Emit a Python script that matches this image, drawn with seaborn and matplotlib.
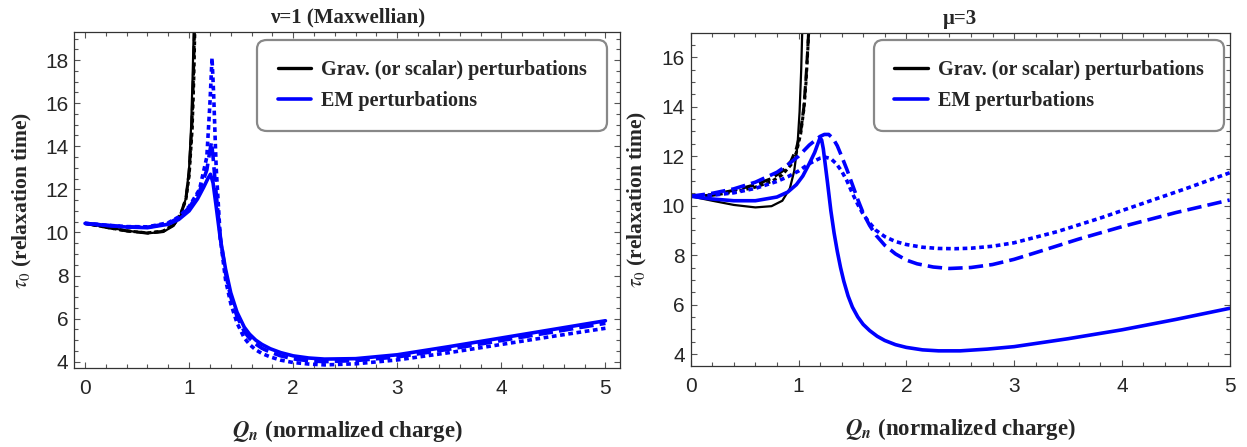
import numpy as np
import pandas as pd
import matplotlib
matplotlib.use("Agg")
import matplotlib.pyplot as plt
from matplotlib.ticker import MultipleLocator
from matplotlib.lines import Line2D
import seaborn as sns

# --- Data (Q_n vs tau_0) ---
# left panel: nu=1 (Maxwellian)
L_grav_solid_x = [0, 0.2, 0.4, 0.6, 0.75, 0.85, 0.92, 0.97, 1.0, 1.02, 1.035, 1.045]
L_grav_solid_y = [10.42, 10.25, 10.08, 9.96, 10.02, 10.3, 10.8, 11.6, 13.0, 15.0, 17.5, 19.5]
L_grav_dash_x = [0, 0.2, 0.4, 0.6, 0.75, 0.85, 0.92, 0.97, 1.0, 1.025, 1.04, 1.052]
L_grav_dash_y = [10.42, 10.24, 10.07, 9.97, 10.05, 10.35, 10.85, 11.6, 12.8, 14.8, 17.0, 19.5]
L_grav_dot_x = [0, 0.2, 0.4, 0.6, 0.75, 0.85, 0.92, 0.97, 1.0, 1.03, 1.045, 1.056]
L_grav_dot_y = [10.42, 10.24, 10.07, 9.98, 10.06, 10.36, 10.85, 11.55, 12.6, 14.8, 17.0, 19.5]

L_em_solid_x = [0, 0.2, 0.4, 0.6, 0.8, 0.9, 1.0, 1.08, 1.14, 1.18, 1.205, 1.23, 1.26, 1.3, 1.35,
                1.4, 1.46, 1.53, 1.58, 1.64, 1.7, 1.78, 1.88, 2.0, 2.15, 2.3, 2.6, 3.0, 3.5, 4.0, 4.5, 5.0]
L_em_solid_y = [10.42, 10.33, 10.25, 10.22, 10.38, 10.6, 11.0, 11.55, 12.1, 12.5, 12.7, 12.3, 11.2, 9.7, 8.3,
                7.2, 6.3, 5.6, 5.28, 5.0, 4.8, 4.6, 4.42, 4.27, 4.17, 4.12, 4.14, 4.32, 4.7, 5.1, 5.5, 5.9]
L_em_dash_x = [0, 0.2, 0.4, 0.6, 0.8, 0.9, 1.0, 1.1, 1.17, 1.2, 1.215, 1.23, 1.26, 1.3, 1.35,
               1.4, 1.46, 1.53, 1.58, 1.64, 1.7, 1.78, 1.88, 2.0, 2.15, 2.3, 2.6, 3.0, 3.5, 4.0, 4.5, 5.0]
L_em_dash_y = [10.42, 10.33, 10.26, 10.24, 10.42, 10.68, 11.15, 11.9, 12.9, 13.8, 14.2, 13.5, 11.8, 9.8, 8.1,
               7.0, 6.1, 5.4, 5.08, 4.82, 4.62, 4.44, 4.27, 4.13, 4.04, 4.0, 4.05, 4.22, 4.58, 4.98, 5.38, 5.78]
L_em_dot_x = [0, 0.2, 0.4, 0.6, 0.8, 0.9, 1.0, 1.1, 1.17, 1.2, 1.22, 1.235, 1.26, 1.3, 1.35,
              1.4, 1.46, 1.53, 1.58, 1.64, 1.7, 1.78, 1.88, 2.0, 2.15, 2.3, 2.6, 3.0, 3.5, 4.0, 4.5, 5.0]
L_em_dot_y = [10.42, 10.34, 10.27, 10.26, 10.45, 10.72, 11.2, 12.0, 13.5, 16.0, 18.1, 16.5, 13.0, 9.7, 7.8,
              6.7, 5.8, 5.1, 4.8, 4.55, 4.38, 4.22, 4.07, 3.96, 3.89, 3.85, 3.9, 4.08, 4.42, 4.8, 5.18, 5.55]

# right panel: mu=3
R_grav_solid_x = [0, 0.2, 0.4, 0.6, 0.75, 0.85, 0.92, 0.96, 0.99, 1.01, 1.025, 1.035]
R_grav_solid_y = [10.38, 10.2, 10.03, 9.93, 9.98, 10.2, 10.7, 11.4, 12.4, 13.8, 15.5, 17.1]
R_grav_dash_x = [0, 0.2, 0.4, 0.6, 0.75, 0.85, 0.93, 0.98, 1.02, 1.05, 1.07, 1.085, 1.095]
R_grav_dash_y = [10.38, 10.45, 10.62, 10.85, 11.1, 11.4, 11.8, 12.3, 13.0, 14.0, 15.2, 16.3, 17.1]
R_grav_dot_x = [0, 0.2, 0.4, 0.6, 0.75, 0.85, 0.93, 0.98, 1.02, 1.05, 1.07, 1.085, 1.095]
R_grav_dot_y = [10.38, 10.42, 10.55, 10.75, 10.98, 11.25, 11.65, 12.15, 12.9, 13.9, 15.0, 16.2, 17.1]

R_em_solid_x = [0, 0.2, 0.4, 0.6, 0.8, 0.9, 0.98, 1.04, 1.1, 1.15, 1.2, 1.215, 1.23, 1.25, 1.27, 1.3,
                1.33, 1.36, 1.39, 1.42, 1.46, 1.5, 1.55, 1.6, 1.66, 1.73, 1.8, 1.9, 2.0, 2.15, 2.3,
                2.5, 2.75, 3.0, 3.5, 4.0, 4.5, 5.0]
R_em_solid_y = [10.38, 10.27, 10.2, 10.2, 10.35, 10.55, 10.85, 11.2, 11.7, 12.15, 12.75, 12.65, 12.3, 11.6, 10.9, 9.8,
                8.9, 8.15, 7.5, 6.95, 6.35, 5.9, 5.5, 5.2, 4.95, 4.72, 4.55, 4.38, 4.27, 4.17, 4.13,
                4.13, 4.2, 4.3, 4.62, 4.98, 5.4, 5.85]
R_em_dash_x = [0, 0.2, 0.4, 0.6, 0.8, 0.9, 1.0, 1.1, 1.2, 1.24, 1.28, 1.32, 1.36, 1.4, 1.45, 1.5, 1.55,
               1.6, 1.66, 1.72, 1.8, 1.9, 2.0, 2.1, 2.25, 2.4, 2.6, 2.8, 3.0, 3.2, 3.6, 4.0, 4.5, 5.0]
R_em_dash_y = [10.38, 10.5, 10.68, 10.95, 11.35, 11.65, 12.0, 12.45, 12.8, 12.88, 12.88, 12.72, 12.42, 12.0, 11.45, 10.85, 10.25,
               9.7, 9.2, 8.8, 8.4, 8.05, 7.8, 7.65, 7.52, 7.46, 7.5, 7.62, 7.83, 8.1, 8.65, 9.15, 9.72, 10.23]
R_em_dot_x = [0, 0.2, 0.4, 0.6, 0.8, 0.9, 1.0, 1.1, 1.2, 1.25, 1.3, 1.35, 1.4, 1.45, 1.5, 1.55, 1.6,
              1.66, 1.72, 1.8, 1.9, 2.0, 2.15, 2.3, 2.45, 2.6, 2.8, 3.0, 3.4, 3.8, 4.2, 4.6, 5.0]
R_em_dot_y = [10.38, 10.42, 10.52, 10.7, 10.98, 11.17, 11.4, 11.7, 11.92, 11.96, 11.9, 11.7, 11.4, 11.0, 10.5, 10.05, 9.65,
              9.3, 9.0, 8.75, 8.55, 8.43, 8.32, 8.27, 8.26, 8.28, 8.36, 8.5, 8.95, 9.5, 10.1, 10.7, 11.33]

TITLES = ["\u03bd=1 (Maxwellian)", "\u03bc=3"]
LEGEND_LABELS = ["Grav. (or scalar) perturbations", "EM perturbations"]

DOTTED = (0, (1.3, 1.0))
DASHED = (0, (4.0, 1.7))

sns.set_theme(style="ticks")
plt.rcParams["font.family"] = ["Liberation Serif", "DejaVu Serif"]
plt.rcParams["mathtext.fontset"] = "stix"


def draw(ax, x, y, color, lw, ls):
    sns.lineplot(x=x, y=y, ax=ax, color=color, lw=lw, linestyle=ls,
                 estimator=None, sort=False)


def style_axes(ax, ylim, xlim, yticks):
    ax.set_xlim(*xlim)
    ax.set_ylim(*ylim)
    ax.xaxis.set_major_locator(MultipleLocator(1))
    ax.xaxis.set_minor_locator(MultipleLocator(0.2))
    ax.set_yticks(yticks)
    ax.yaxis.set_minor_locator(MultipleLocator(0.5))
    ax.tick_params(which="both", direction="in", top=True, right=True,
                   color="#555555", width=0.8)
    ax.tick_params(which="major", length=4.3)
    ax.tick_params(which="minor", length=2.9)
    ax.tick_params(axis="x", which="major", pad=8.0)
    ax.tick_params(axis="y", which="major", pad=4.3)
    for lab in ax.get_xticklabels() + ax.get_yticklabels():
        lab.set_fontfamily("Liberation Sans")
        lab.set_fontsize(15)
    for sp in ax.spines.values():
        sp.set_color("#333333")
        sp.set_linewidth(0.9)
    ax.set_xlabel("$\\mathbfit{Q_n}$ (normalized charge)", fontsize=16.5, fontweight="bold")
    ax.set_ylabel("$\\tau_0$ (relaxation time)", fontsize=15.5, fontweight="bold")
    ax.xaxis.set_label_coords(0.5, -0.15)


fig = plt.figure(figsize=(12.47, 4.47), dpi=100)
axL = fig.add_axes([0.0596, 0.1774, 0.4376, 0.7503])
axR = fig.add_axes([0.5539, 0.1819, 0.4322, 0.7436])

BLK_LW, BLK_LW2, BLUE_LW = 1.6, 2.2, 2.6

# left
draw(axL, L_grav_dot_x, L_grav_dot_y, "black", BLK_LW2, DOTTED)
draw(axL, L_grav_dash_x, L_grav_dash_y, "black", BLK_LW2, DASHED)
draw(axL, L_grav_solid_x, L_grav_solid_y, "black", BLK_LW, "-")
draw(axL, L_em_dot_x, L_em_dot_y, "blue", BLUE_LW, DOTTED)
draw(axL, L_em_dash_x, L_em_dash_y, "blue", BLUE_LW, DASHED)
draw(axL, L_em_solid_x, L_em_solid_y, "blue", BLUE_LW, "-")
style_axes(axL, (3.72, 19.29), (-0.103, 5.14), [4, 6, 8, 10, 12, 14, 16, 18])
axL.yaxis.set_label_coords(-0.074, 0.5)

# right
draw(axR, R_grav_dot_x, R_grav_dot_y, "black", BLK_LW2, DOTTED)
draw(axR, R_grav_dash_x, R_grav_dash_y, "black", BLK_LW2, DASHED)
draw(axR, R_grav_solid_x, R_grav_solid_y, "black", BLK_LW, "-")
draw(axR, R_em_dot_x, R_em_dot_y, "blue", BLUE_LW, DOTTED)
draw(axR, R_em_dash_x, R_em_dash_y, "blue", BLUE_LW, DASHED)
draw(axR, R_em_solid_x, R_em_solid_y, "blue", BLUE_LW, "-")
style_axes(axR, (3.53, 16.97), (0, 5), [4, 6, 8, 10, 12, 14, 16])
axR.yaxis.set_label_coords(-0.077, 0.5)

for ax, title, anchor in [(axL, TITLES[0], (0.976, 0.977)), (axR, TITLES[1], (0.989, 0.980))]:
    ax.set_title(title, fontsize=15, fontweight="bold", pad=7)
    handles = [Line2D([], [], color="black", lw=2.4), Line2D([], [], color="blue", lw=2.6)]
    leg = ax.legend(handles, LEGEND_LABELS, loc="upper right", bbox_to_anchor=anchor,
                    borderaxespad=0, prop={"weight": "bold", "size": 14.5},
                    handlelength=1.65, handletextpad=0.5, labelspacing=0.55,
                    borderpad=1.0, framealpha=1, fancybox=True)
    frame = leg.get_frame()
    frame.set_edgecolor("#888888")
    frame.set_linewidth(1.6)
    frame.set_boxstyle("round,pad=0,rounding_size=0.45")

fig.savefig("out.png", dpi=100)
